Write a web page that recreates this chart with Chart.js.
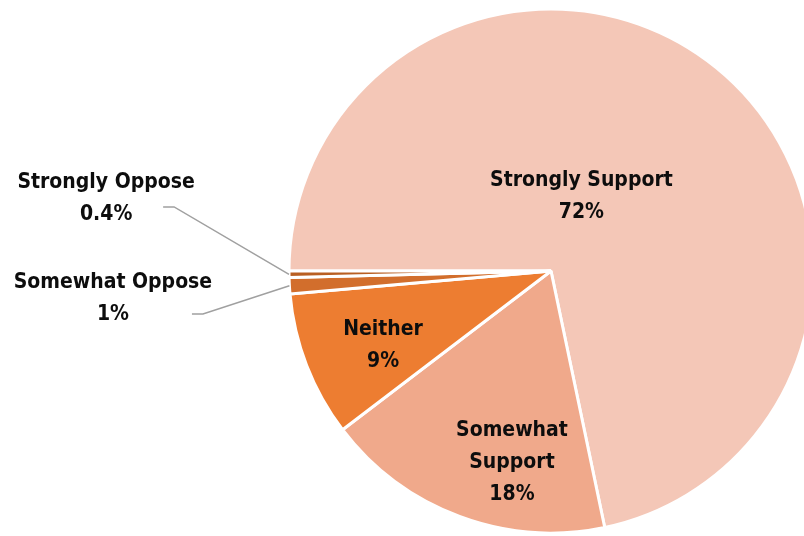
<!DOCTYPE html>
<html>
<head>
<meta charset="utf-8">
<script src="https://cdn.jsdelivr.net/npm/chart.js@4/dist/chart.umd.min.js"></script>
<style>
  html, body { margin: 0; padding: 0; background: #ffffff; }
  #frame { width: 804px; height: 536px; overflow: hidden; position: relative; }
  #holder { width: 830px; height: 536px; position: absolute; left: 0; top: 0; }
</style>
</head>
<body>
<div id="frame"><div id="holder"><canvas id="pie"></canvas></div></div>
<script>
// Survey responses, in drawing order (clockwise from 9 o'clock)
const categories = ['Strongly Support', 'Somewhat Support', 'Neither', 'Somewhat Oppose', 'Strongly Oppose'];
const shares = [72, 18, 9, 1, 0.4];
const sliceColors = ['#F4C7B7', '#F0A98B', '#ED7D31', '#D26E2C', '#B95F22'];

// Label placement: centre of the label block relative to the pie centre,
// in units of the radius; outside labels also get a leader line whose
// start is given in pixels from the label block centre.
const labelLayout = [
  { dx: 0.116, dy: -0.283 },
  { dx: -0.149, dy: 0.733, wrap: true },
  { dx: -0.641, dy: 0.286 },
  { dx: -1.672, dy: 0.107, leader: { sx: 79, sy: 15, run: 11 } },
  { dx: -1.698, dy: -0.275, leader: { sx: 57, sy: 8, run: 11 } }
];

function pctText(v) {
  return (v < 1 ? v.toFixed(1) : Math.round(v).toString()) + '%';
}

const sliceLabels = {
  id: 'sliceLabels',
  afterDatasetsDraw(chart) {
    const ctx = chart.ctx;
    const arcs = chart.getDatasetMeta(0).data;
    ctx.save();
    arcs.forEach((arc, i) => {
      const lay = labelLayout[i];
      const r = arc.outerRadius;
      const cx = arc.x + lay.dx * r;
      const cy = arc.y + lay.dy * r;
      const words = lay.wrap ? categories[i].split(' ') : [categories[i]];
      const lines = words.concat([pctText(shares[i])]);
      const lh = 32;

      if (lay.leader) {
        const mid = (arc.startAngle + arc.endAngle) / 2;
        const ex = arc.x + Math.cos(mid) * r;
        const ey = arc.y + Math.sin(mid) * r;
        const sx = cx + lay.leader.sx;
        const sy = cy + lay.leader.sy;
        ctx.strokeStyle = '#A0A0A0';
        ctx.lineWidth = 1.5;
        ctx.beginPath();
        ctx.moveTo(sx, sy);
        ctx.lineTo(sx + lay.leader.run, sy);
        ctx.lineTo(ex, ey);
        ctx.stroke();
      }

      ctx.fillStyle = '#0d0d0d';
      ctx.font = 'bold 21px "DejaVu Sans Condensed", "DejaVu Sans", sans-serif';
      ctx.textAlign = 'center';
      ctx.textBaseline = 'middle';
      const top = cy - (lines.length - 1) * lh / 2;
      lines.forEach((t, k) => ctx.fillText(t, cx, top + k * lh));
    });
    ctx.restore();
  }
};

new Chart(document.getElementById('pie'), {
  type: 'pie',
  data: {
    labels: categories,
    datasets: [{
      data: shares,
      backgroundColor: sliceColors,
      borderColor: '#ffffff',
      borderWidth: 3,
      hoverOffset: 0,
      offset: 0
    }]
  },
  options: {
    responsive: true,
    maintainAspectRatio: false,
    animation: false,
    rotation: 270,
    radius: 262,
    layout: { padding: { left: 289, right: 17, top: 9, bottom: 3 } },
    plugins: {
      legend: { display: false },
      tooltip: { enabled: false }
    }
  },
  plugins: [sliceLabels]
});
</script>
</body>
</html>
